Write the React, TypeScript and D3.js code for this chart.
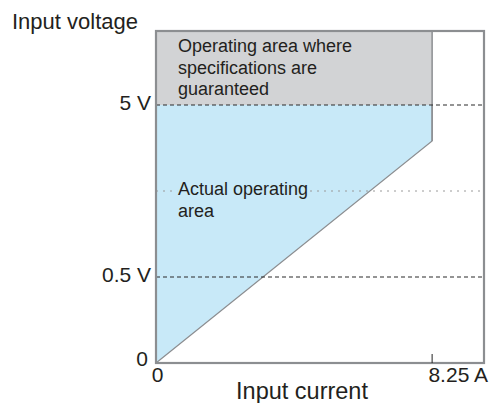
import { line, scaleLinear } from "d3";

// schematic axes: voltage is piecewise so the levels sit where the figure puts them
const voltageLevels = [0, 0.5, 5, 6.95];
const voltageTicks = [0, 0.5, 5];
const voltageTickLabels = ["0", "0.5 V", "5 V"];
const guideLevel = 2.75;

const currentDomain = [0, 9.8];
const currentTicks = [0, 8.25];
const currentTickLabels = ["0", "8.25 A"];

const ratedCurrent = 8.25;
const kneeVoltage = 4.06;

const guaranteedArea: [number, number][] = [
  [0, 5],
  [0, 6.95],
  [ratedCurrent, 6.95],
  [ratedCurrent, 5],
];
const actualArea: [number, number][] = [
  [0, 0],
  [ratedCurrent, kneeVoltage],
  [ratedCurrent, 5],
  [0, 5],
];

const guaranteedLabel = ["Operating area where", "specifications are", "guaranteed"];
const actualLabel = ["Actual operating", "area"];

const font = "'Liberation Sans', Arial, Helvetica, sans-serif";

export default function App() {
  const width = 491;
  const height = 403;

  const x = scaleLinear().domain(currentDomain).range([156, 484]);
  const y = scaleLinear().domain(voltageLevels).range([363, 277, 105, 31]);

  const poly = line<[number, number]>()
    .x((d) => x(d[0]))
    .y((d) => y(d[1]));

  const frameGray = "#8c8e91";
  const textColor = "#231f20";
  const left = x(currentDomain[0]);
  const right = x(currentDomain[1]);
  const top = y(voltageLevels[3]);
  const bottom = y(0);

  return (
    <svg
      width={width}
      height={height}
      viewBox={`0 0 ${width} ${height}`}
      style={{ position: "absolute", left: 0, top: 0, background: "#fff" }}
      fontFamily={font}
    >
      <path d={(poly(guaranteedArea) ?? "") + "Z"} fill="#d2d3d5" />
      <path d={(poly(actualArea) ?? "") + "Z"} fill="#c8e9f8" />

      {/* sloped edge of the actual area */}
      <path
        d={poly([actualArea[0], actualArea[1], actualArea[2]]) ?? ""}
        fill="none"
        stroke={frameGray}
        strokeWidth={1.2}
      />
      {/* right edge of the guaranteed area */}
      <line
        x1={x(ratedCurrent)}
        x2={x(ratedCurrent)}
        y1={top}
        y2={y(kneeVoltage)}
        stroke={frameGray}
        strokeWidth={1.5}
      />

      {/* guide lines */}
      <line x1={left} x2={right} y1={y(guideLevel)} y2={y(guideLevel)} stroke="#9a9a9a" strokeWidth={1} strokeDasharray="2 5" />
      {[5, 0.5].map((v) => (
        <line key={v} x1={left} x2={right} y1={y(v)} y2={y(v)} stroke="#2a2a2a" strokeWidth={1.1} strokeDasharray="4 3" />
      ))}

      {/* frame */}
      <rect x={left} y={top} width={right - left} height={bottom - top} fill="none" stroke={frameGray} strokeWidth={2.2} />

      {/* tick at rated current */}
      <line x1={x(ratedCurrent)} x2={x(ratedCurrent)} y1={bottom - 9} y2={bottom} stroke="#222" strokeWidth={1} />

      {/* region labels */}
      <text x={178} y={52} fontSize={18} fill={textColor}>
        {guaranteedLabel.map((t, i) => (
          <tspan key={t} x={178} dy={i === 0 ? 0 : 21.5}>
            {t}
          </tspan>
        ))}
      </text>
      <text
        x={178}
        y={195}
        fontSize={18}
        fill={textColor}
        stroke="#c8e9f8"
        strokeWidth={5}
        paintOrder="stroke"
      >
        {actualLabel.map((t, i) => (
          <tspan key={t} x={178} dy={i === 0 ? 0 : 21.5}>
            {t}
          </tspan>
        ))}
      </text>

      {/* voltage tick labels */}
      {voltageTicks.map((v, i) => (
        <text
          key={v}
          x={v === 0 ? 148 : 151}
          y={y(v) + (v === 0 ? 3 : 5)}
          fontSize={21}
          textAnchor="end"
          fill={textColor}
        >
          {voltageTickLabels[i]}
        </text>
      ))}

      {/* current tick labels */}
      {currentTicks.map((c, i) => (
        <text
          key={c}
          x={c === 0 ? x(c) + 1.5 : right + 4}
          y={bottom + 19}
          fontSize={21}
          textAnchor={c === 0 ? "middle" : "end"}
          fill={textColor}
        >
          {currentTickLabels[i]}
        </text>
      ))}

      {/* axis titles */}
      <text x={12} y={29} fontSize={22} fill={textColor}>
        Input voltage
      </text>
      <text x={302} y={399} fontSize={23.5} textAnchor="middle" fill={textColor}>
        Input current
      </text>
    </svg>
  );
}
